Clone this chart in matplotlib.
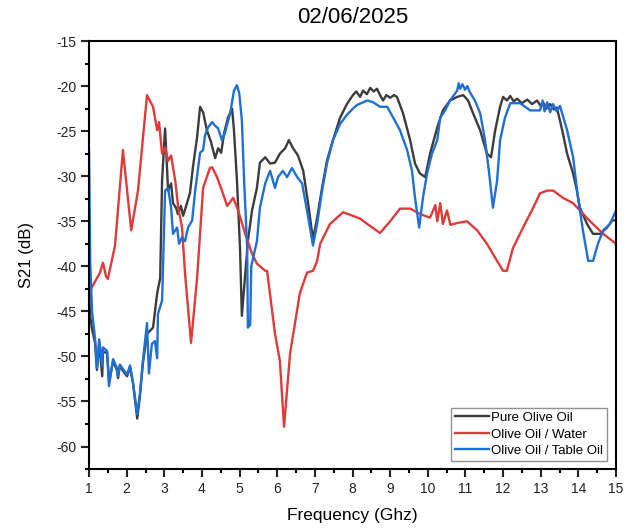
import matplotlib
matplotlib.use('Agg')
import matplotlib.pyplot as plt
from matplotlib.ticker import MultipleLocator

plt.rcParams['font.family'] = ['Liberation Sans', 'DejaVu Sans']
plt.rcParams['axes.unicode_minus'] = False

# Pure Olive Oil
pure_f = [1.0, 1.03, 1.08, 1.16, 1.21, 1.27, 1.35, 1.37, 1.48, 1.53, 1.64, 1.74, 1.77, 1.82,
          1.90, 2.01, 2.09, 2.17, 2.28, 2.35, 2.43, 2.54, 2.70, 2.81, 2.89, 2.94, 3.02, 3.10,
          3.18, 3.23, 3.31, 3.36, 3.44, 3.50, 3.60, 3.68, 3.76, 3.87, 3.95, 4.03, 4.13, 4.24,
          4.35, 4.43, 4.51, 4.59, 4.69, 4.80, 4.85, 4.93, 5.01, 5.06, 5.14, 5.22, 5.33, 5.46,
          5.54, 5.68, 5.81, 5.94, 6.07, 6.21, 6.31, 6.42, 6.55, 6.69, 6.82, 6.95, 7.06, 7.19,
          7.32, 7.48, 7.67, 7.85, 8.01, 8.10, 8.20, 8.28, 8.38, 8.47, 8.56, 8.65, 8.73, 8.81,
          8.90, 9.00, 9.10, 9.18, 9.34, 9.53, 9.66, 9.79, 9.93, 10.06, 10.25, 10.40, 10.59,
          10.78, 10.94, 11.07, 11.20, 11.39, 11.57, 11.68, 11.79, 11.92, 12.0, 12.10, 12.19,
          12.28, 12.37, 12.50, 12.64, 12.77, 12.90, 13.00, 13.06, 13.15, 13.25, 13.35, 13.43,
          13.57, 13.70, 13.86, 13.96, 14.04, 14.23, 14.39, 14.58, 14.76, 14.90, 15.0]
pure_db = [-43, -45.5, -47, -48.5, -51.5, -48.5, -52.2, -49.5, -49.6, -52.8, -50.5, -51.5, -52.4, -51,
           -51.6, -52.2, -51.2, -53, -56.9, -54.5, -50.8, -47.5, -46.8, -43, -41.3, -30.5, -24.7, -31.6,
           -30.8, -33, -33.5, -34.2, -33.3, -34.4, -33, -31.9, -29, -25.7, -22.3, -22.9, -24.9, -26.2,
           -28, -26.9, -27.4, -25.2, -23.5, -22.5, -24.9, -30.5, -37.9, -45.5, -41.3, -37.2, -33.8, -31.3,
           -28.5, -27.9, -28.6, -28.5, -27.5, -26.9, -26, -26.9, -27.7, -29.4, -33, -37, -34.6, -31.3,
           -28.3, -26, -23.5, -22, -21, -20.6, -21.2, -20.5, -20.9, -20.2, -20.6, -20.3, -21.0, -21.6,
           -21.0, -21.3, -21.0, -21.2, -23, -26, -28.6, -29.7, -30.1, -27.5, -24.6, -22.7, -21.6,
           -21.2, -21, -21.6, -23, -24.9, -27.5, -27.9, -24.9, -22.3, -21.2, -21.6, -21.1,
           -21.7, -21.4, -21.9, -21.5, -22.0, -21.6, -22.2, -21.8, -22.5, -22.0, -22.6, -22.4,
           -24.9, -27.5, -29.7, -31.6, -33.5, -35.3, -36.4, -36.4, -35.7, -34.9, -34.9]

# Olive Oil / Water
water_f = [1.0, 1.05, 1.08, 1.29, 1.37, 1.45, 1.50, 1.69, 1.90, 2.12, 2.30, 2.54, 2.70, 2.81,
           2.86, 2.94, 3.02, 3.10, 3.18, 3.29, 3.37, 3.47, 3.55, 3.71, 3.87, 3.90, 4.03, 4.21,
           4.27, 4.40, 4.53, 4.67, 4.83, 4.96, 5.15, 5.33, 5.46, 5.68, 5.73, 5.94, 6.07, 6.18,
           6.34, 6.60, 6.79, 6.95, 7.06, 7.14, 7.40, 7.75, 8.01, 8.20, 8.39, 8.73, 9.0, 9.26,
           9.53, 9.79, 10.06, 10.2, 10.25, 10.33, 10.4, 10.51, 10.6, 10.78, 11.04, 11.31, 11.57,
           11.84, 12.0, 12.1, 12.26, 12.53, 12.8, 12.98, 13.17, 13.33, 13.59, 13.86, 14.04, 14.31,
           14.66, 15.0]
water_db = [-44, -42.5, -42.3, -40.7, -39.6, -41.1, -41.4, -37.7, -27.1, -36.0, -31.6, -21.0, -22.3, -24.9,
            -24.0, -27.5, -26.8, -28.3, -27.7, -30.5, -33.5, -35.7, -40.8, -48.5, -41.3, -39.5, -31.3, -29.1,
            -29.0, -30.1, -31.6, -33.3, -32.4, -33.8, -36.4, -38.6, -39.7, -40.5, -40.5, -47.5, -50.5, -57.8,
            -49.7, -43, -40.7, -40.5, -39.4, -37.5, -35.3, -34.0, -34.4, -34.7, -35.3, -36.3, -35, -33.6,
            -33.6, -34.2, -34.6, -33.2, -35.0, -33.0, -35.3, -33.8, -35.4, -35.2, -35, -36, -37.5,
            -39.4, -40.5, -40.5, -38, -35.7, -33.5, -31.9, -31.6, -31.6, -32.4, -33, -33.8, -35,
            -36.4, -37.5]

# Olive Oil / Table Oil
table_f = [1.0, 1.03, 1.08, 1.16, 1.21, 1.27, 1.35, 1.37, 1.48, 1.53, 1.64, 1.74, 1.77, 1.82,
           1.90, 2.01, 2.09, 2.17, 2.28, 2.35, 2.43, 2.54, 2.59, 2.67, 2.75, 2.81, 2.83, 2.94,
           2.97, 3.02, 3.10, 3.18, 3.23, 3.34, 3.39, 3.47, 3.55, 3.63, 3.74, 3.82, 3.95, 4.03,
           4.08, 4.16, 4.27, 4.35, 4.43, 4.53, 4.61, 4.75, 4.85, 4.93, 4.99, 5.06, 5.12, 5.20,
           5.22, 5.28, 5.31, 5.46, 5.54, 5.68, 5.81, 5.94, 6.02, 6.15, 6.26, 6.39, 6.53, 6.66,
           6.79, 6.95, 7.06, 7.19, 7.32, 7.48, 7.67, 7.85, 8.01, 8.12, 8.39, 8.55, 8.73, 8.92,
           9.08, 9.26, 9.45, 9.58, 9.66, 9.77, 9.87, 9.98, 10.11, 10.25, 10.33, 10.46, 10.59,
           10.78, 10.82, 10.86, 10.92, 10.99, 11.05, 11.12, 11.25, 11.39, 11.52, 11.63, 11.73,
           11.84, 11.92, 12.05, 12.19, 12.45, 12.72, 12.98, 13.05, 13.10, 13.17, 13.25, 13.33,
           13.42, 13.51, 13.70, 13.86, 13.99, 14.12, 14.26, 14.39, 14.52, 14.66, 14.84, 15.0]
table_db = [-27, -39.4, -45, -48, -51.3, -48.1, -51, -49, -49.4, -53.3, -50.3, -51.3, -52.2, -50.9,
            -51.4, -52, -51, -53, -56.4, -54.2, -50.5, -46.3, -51.9, -48.6, -48.3, -50.2, -45.3, -43.8,
            -39.4, -31.6, -31.3, -33.5, -36.4, -35.7, -37.5, -36.8, -37.2, -35.7, -34.9, -31.6, -27.4, -27.1,
            -25.5, -24.6, -24.0, -24.4, -24.7, -26, -25.2, -23, -20.5, -19.9, -20.8, -23.8, -30.5, -37.9,
            -46.8, -46.5, -40, -37.2, -33.5, -30.8, -29.4, -31.3, -30.1, -29.4, -30.1, -29.1, -30.1, -30.8,
            -33.8, -37.7, -35.3, -31.6, -28.6, -26, -24.2, -23.2, -22.5, -22.1, -21.6, -21.8, -22.3, -22.3,
            -23.5, -24.9, -27.1, -29.4, -32.4, -35.7, -32.4, -29.7, -27.5, -26, -23.5, -22.7, -21.6,
            -20.5, -19.7, -20.3, -19.8, -20.4, -20.0, -20.7, -21.6, -23, -26, -29.7, -33.5,
            -30.5, -26, -23.5, -21.9, -21.9, -22.7, -22.7, -21.6, -22.8, -21.8, -22.9, -22.0,
            -22.8, -22.2, -24.9, -27.9, -32.4, -36, -39.4, -39.4, -37.5, -36, -35.3, -33.8]

fig = plt.figure(figsize=(6.36, 5.30), dpi=100)
ax = fig.add_axes([0.14, 0.115, 0.8286, 0.8076])

ax.plot(pure_f, pure_db, color='#3c3c3c', lw=1.7, label='Pure Olive Oil')
ax.plot(water_f, water_db, color='#e03a3a', lw=1.7, label='Olive Oil / Water')
ax.plot(table_f, table_db, color='#1f6fd6', lw=1.7, label='Olive Oil / Table Oil')

ax.set_xlim(1, 15)
ax.set_ylim(-62.5, -15)
ax.xaxis.set_major_locator(MultipleLocator(1))
ax.xaxis.set_minor_locator(MultipleLocator(0.5))
ax.yaxis.set_major_locator(MultipleLocator(5))
ax.yaxis.set_minor_locator(MultipleLocator(2.5))
ax.tick_params(which='major', direction='out', length=6, width=1.5, labelsize=10,
               colors='#222222', pad=3)
ax.tick_params(which='minor', direction='out', length=3, width=1.5)
for s in ax.spines.values():
    s.set_linewidth(1.5)

ax.set_title('02/06/2025', fontsize=16, pad=13)
ax.set_xlabel('Frequency (Ghz)', fontsize=12.5, labelpad=9)
ax.set_ylabel('S21 (dB)', fontsize=12, labelpad=16)

leg = ax.legend(loc='lower right', bbox_to_anchor=(0.983, 0.019), borderaxespad=0,
                fontsize=9.5, frameon=True, fancybox=False, handlelength=2.6,
                handletextpad=0.15, borderpad=0.3, labelspacing=0.32)
leg.get_frame().set_edgecolor('#777777')
leg.get_frame().set_linewidth(1.0)

fig.savefig('out.png', dpi=100)
